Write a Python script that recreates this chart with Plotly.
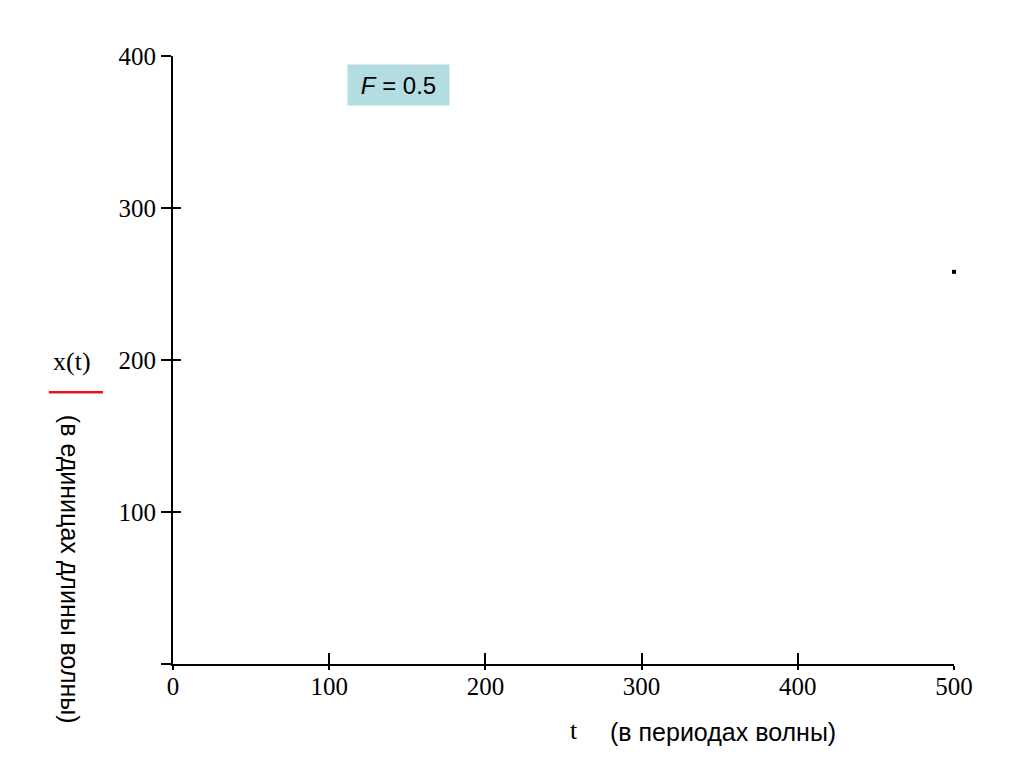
import plotly.graph_objects as go

# Data
t_values = [500]
x_values = [258]

x_tickvals = [0, 100, 200, 300, 400, 500]
x_ticktext = ["0", "100", "200", "300", "400", "500"]
y_tickvals = [0, 100, 200, 300, 400]
y_ticktext = ["", "100", "200", "300", "400"]

x_range = [0, 500]
y_range = [0, 400]

serif = "Liberation Serif, Times New Roman, serif"
sans = "Liberation Sans, Arial, sans-serif"

fig = go.Figure()
# helper trace so overlay axes (inner halves of the crossing ticks) are drawn
fig.add_trace(go.Scatter(x=[None], y=[None], xaxis="x2", yaxis="y2",
                         showlegend=False, hoverinfo="skip"))
fig.add_trace(go.Scatter(
    x=t_values, y=x_values, mode="markers",
    marker=dict(symbol="square", size=4, color="black", line=dict(width=0)),
    cliponaxis=False, showlegend=False, hoverinfo="skip",
))

fig.update_layout(
    width=1024, height=768,
    margin=dict(l=165, r=78, t=48, b=112),
    paper_bgcolor="white", plot_bgcolor="white",
    xaxis=dict(
        range=x_range, tickvals=x_tickvals, ticktext=x_ticktext,
        showline=True, linecolor="black", linewidth=2,
        ticks="outside", ticklen=4, tickwidth=2, tickcolor="black",
        showgrid=False, zeroline=False, ticklabelstandoff=-5,
        tickfont=dict(family=serif, size=25, color="black"),
    ),
    yaxis=dict(
        range=y_range, tickvals=y_tickvals, ticktext=y_ticktext,
        showline=True, linecolor="black", linewidth=2,
        ticks="outside", ticklen=10, tickwidth=2, tickcolor="black",
        showgrid=False, zeroline=False,
        tickfont=dict(family=serif, size=25, color="black"),
    ),
    xaxis2=dict(
        range=x_range, tickvals=x_tickvals, overlaying="x", anchor="y2",
        side="bottom", ticks="inside", ticklen=11, tickwidth=2, tickcolor="black",
        showticklabels=False, showline=False, showgrid=False, zeroline=False,
    ),
    yaxis2=dict(
        range=y_range, tickvals=y_tickvals, overlaying="y", anchor="x2",
        side="left", ticks="inside", ticklen=8, tickwidth=2, tickcolor="black",
        showticklabels=False, showline=False, showgrid=False, zeroline=False,
    ),
)

# y-axis label: x(t) with red legend line and rotated unit text
fig.add_annotation(
    xref="paper", yref="paper", x=-0.129, y=0.497, xanchor="center", yanchor="middle",
    text="x(t)", showarrow=False, font=dict(family=serif, size=26, color="black"),
)
fig.add_shape(
    type="line", xref="paper", yref="paper",
    x0=-0.159, x1=-0.0896, y0=0.447, y1=0.447,
    line=dict(color="#e8161b", width=2.5),
)
fig.add_annotation(
    xref="paper", yref="paper", x=-0.132, y=0.155, xanchor="center", yanchor="middle",
    text="(в единицах длины волны)", textangle=90, showarrow=False,
    font=dict(family=sans, size=25, color="black"),
)

# x-axis label
fig.add_annotation(
    xref="paper", yref="paper", x=0.513, y=-0.110, xanchor="center", yanchor="middle",
    text="t", showarrow=False, font=dict(family=serif, size=26, color="black"),
)
fig.add_annotation(
    xref="paper", yref="paper", x=0.704, y=-0.112, xanchor="center", yanchor="middle",
    text="(в периодах волны)", showarrow=False, font=dict(family=sans, size=25, color="black"),
)

# parameter box
fig.add_annotation(
    xref="paper", yref="paper", x=0.289, y=0.952, xanchor="center", yanchor="middle",
    text="<i>F</i> = 0.5", showarrow=False,
    font=dict(family=sans, size=24, color="black"),
    bgcolor="#b3dde0", borderpad=6, width=89, height=28,
)

fig.write_html("out.html")
